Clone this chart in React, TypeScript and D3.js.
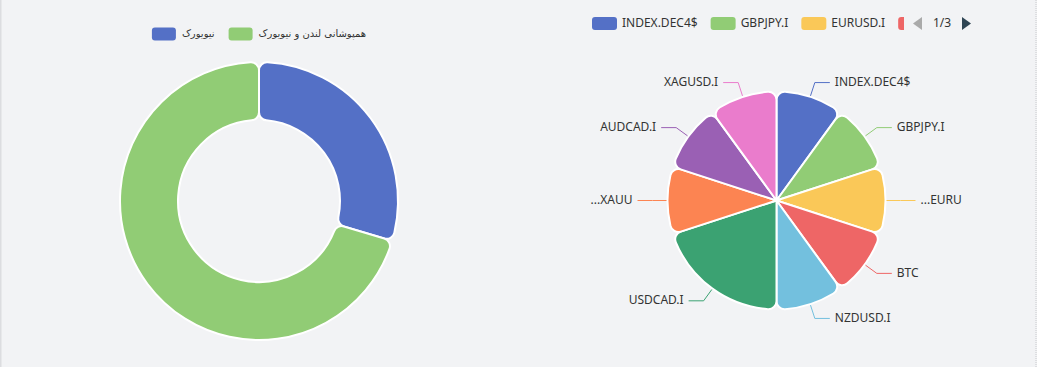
import React, { useEffect, useRef } from "react";
import * as d3 from "d3";

// left donut: trading sessions
const sessionNames = ["نیویورک", "همپوشانی لندن و نیویورک"];
const sessionValues = [8, 19];

// right pie: symbols
const symbolNames = ["INDEX.DEC4$", "GBPJPY.I", "EURUSD.I", "BTC", "NZDUSD.I", "USDCAD.I", "XAUUSD.I", "AUDCAD.I", "XAGUSD.I"];
const symbolLabels = ["INDEX.DEC4$", "GBPJPY.I", "...EURU", "BTC", "NZDUSD.I", "USDCAD.I", "...XAUU", "AUDCAD.I", "XAGUSD.I"];
const symbolValues = [1, 1, 1, 1, 1, 2, 1, 1, 1];
const legendPage = "1/3";

const palette = ["#5470c6", "#91cc75", "#fac858", "#ee6666", "#73c0de", "#3ba272", "#fc8452", "#9a60b4", "#ea7ccc"];

const W = 1037;
const H = 367;
const latinFont = "'Noto Sans', 'Liberation Sans', sans-serif";
const persianFont = "'DejaVu Sans', sans-serif";

const App = () => {
  const svgRef = useRef<SVGSVGElement>(null);

  useEffect(() => {
    const svg = d3.select(svgRef.current);
    svg.selectAll("*").remove();

    svg.append("rect").attr("width", W).attr("height", H).attr("fill", "#f2f3f5");
    svg.append("rect").attr("x", 0).attr("width", 1.5).attr("height", H).attr("fill", "#dcdde0");
    svg.append("line")
      .attr("x1", 1036).attr("x2", 1036).attr("y1", 0).attr("y2", H)
      .attr("stroke", "#c8c9cc").attr("stroke-dasharray", "1,1");

    // ---- donut ----
    const dcx = 259;
    const dcy = 201;
    const donutData = d3.pie<number>().sort(null).value((d) => d)(sessionValues);
    const donutArc = d3.arc<d3.PieArcDatum<number>>().innerRadius(81).outerRadius(139).cornerRadius(8);
    svg.append("g")
      .attr("transform", `translate(${dcx},${dcy})`)
      .selectAll("path")
      .data(donutData)
      .join("path")
      .attr("d", donutArc)
      .attr("fill", (d, i) => palette[i])
      .attr("stroke", "#fff")
      .attr("stroke-width", 2)
      .attr("stroke-linejoin", "round");

    // donut legend, centered over donut
    const lg = svg.append("g").attr("font-family", persianFont).attr("font-size", 10).attr("fill", "#333");
    let lx = 0;
    sessionNames.forEach((name, i) => {
      lg.append("rect").attr("x", lx).attr("y", 27.5).attr("width", 24).attr("height", 13).attr("rx", 3).attr("fill", palette[i]);
      const t = lg.append("text").attr("x", lx + 30).attr("y", 34).attr("dominant-baseline", "middle").text(name);
      const tw = (t.node() as SVGTextElement).getComputedTextLength();
      lx += 30 + tw + (i < sessionNames.length - 1 ? 14 : 0);
    });
    lg.attr("transform", `translate(${dcx - lx / 2},0)`);

    // ---- pie ----
    const pcx = 776.5;
    const pcy = 200.5;
    const r = 109;
    const pieData = d3.pie<number>().sort(null).value((d) => d)(symbolValues);
    const pieArc = d3.arc<d3.PieArcDatum<number>>().innerRadius(0).outerRadius(r).cornerRadius(8);
    const pg = svg.append("g").attr("transform", `translate(${pcx},${pcy})`);
    pg.selectAll("path")
      .data(pieData)
      .join("path")
      .attr("d", pieArc)
      .attr("fill", (d, i) => palette[i])
      .attr("stroke", "#fff")
      .attr("stroke-width", 2)
      .attr("stroke-linejoin", "round");

    const mid = (d: d3.PieArcDatum<number>) => (d.startAngle + d.endAngle) / 2;
    const pt = (a: number, rr: number) => [Math.sin(a) * rr, -Math.cos(a) * rr];
    pieData.forEach((d, i) => {
      const a = mid(d);
      const right = Math.sin(a) >= 0;
      const p0 = pt(a, r + 1);
      const p1 = pt(a, r + 15);
      const p2 = [p1[0] + (right ? 15 : -15), p1[1]];
      pg.append("polyline")
        .attr("points", [p0, p1, p2].map((p) => p.join(",")).join(" "))
        .attr("fill", "none")
        .attr("stroke", palette[i])
        .attr("stroke-width", 1);
      pg.append("text")
        .attr("x", p2[0] + (right ? 5 : -5))
        .attr("y", p2[1])
        .attr("text-anchor", right ? "start" : "end")
        .attr("dominant-baseline", "middle")
        .attr("font-family", latinFont)
        .attr("font-size", 12)
        .attr("fill", "#333")
        .text(symbolLabels[i]);
    });

    // ---- pie legend (paged, clipped) ----
    const clipEnd = 904;
    svg.append("clipPath").attr("id", "legclip")
      .append("rect").attr("x", 585).attr("y", 0).attr("width", clipEnd - 585).attr("height", 45);
    const rg = svg.append("g").attr("clip-path", "url(#legclip)")
      .attr("font-family", latinFont).attr("font-size", 12).attr("fill", "#333");
    let rx = 592;
    for (let i = 0; i < symbolNames.length && rx < clipEnd; i++) {
      rg.append("rect").attr("x", rx).attr("y", 17).attr("width", 25).attr("height", 13).attr("rx", 3).attr("fill", palette[i]);
      if (rx + 30 >= clipEnd) break;
      const t = rg.append("text").attr("x", rx + 30).attr("y", 23.5).attr("dominant-baseline", "middle").text(symbolNames[i]);
      const tw = (t.node() as SVGTextElement).getComputedTextLength();
      rx += 30 + tw + 13;
    }

    svg.append("path").attr("d", "M913,23.5 L922,17 L922,30 Z").attr("fill", "#aaa");
    svg.append("text")
      .attr("x", 933).attr("y", 23.5).attr("dominant-baseline", "middle")
      .attr("font-family", latinFont).attr("font-size", 12).attr("fill", "#333")
      .text(legendPage);
    svg.append("path").attr("d", "M962,17 L971,23.5 L962,30 Z").attr("fill", "#2f4554");
  }, []);

  return (
    <div style={{ position: "absolute", left: 0, top: 0 }}>
      <svg ref={svgRef} width={W} height={H} style={{ display: "block" }}></svg>
    </div>
  );
};

export default App;
